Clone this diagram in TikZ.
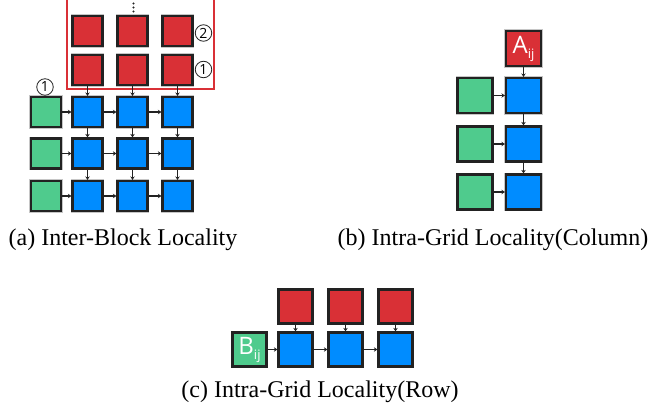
\documentclass[tikz,border=0pt]{standalone}
\usepackage{fontspec}
\setmainfont{Liberation Serif}
\setsansfont{Open Sans}
\usetikzlibrary{arrows.meta}
\definecolor{cred}{HTML}{D93036}
\definecolor{cblue}{HTML}{008CFF}
\definecolor{cgreen}{HTML}{4FCB8D}
\definecolor{cedge}{HTML}{222222}
\tikzset{
  sq/.style={draw=cedge, line width=2.2pt, inner sep=0pt, preaction={draw=gray!45, line width=3.4pt}},
  sqa/.style={sq, minimum size=30pt},
  sqb/.style={sq, minimum size=35pt},
  sqc/.style={sq, minimum size=34pt},
  rd/.style={fill=cred},
  bl/.style={fill=cblue},
  gr/.style={fill=cgreen},
  arr/.style={draw=cedge, line width=1.5pt, -{Stealth[length=3.5pt,width=4.5pt]}},
  captext/.style={font=\fontsize{24}{28}\selectfont},
  circ/.style={circle, draw=cedge, line width=0.8pt, minimum size=16.5pt, inner sep=0pt,
     font=\sffamily\fontsize{14}{14}\selectfont},
  lbl/.style={text=white, font=\sffamily\fontsize{24}{24}\selectfont}
}
\begin{document}
\begin{tikzpicture}[x=1pt,y=-1pt]
\useasboundingbox (0,0) rectangle (654,415);
% ---------- panel (a)
\draw[draw=cred, line width=1.5pt] (67,0) -- (67,89) -- (214,89) -- (214,0);
\foreach \i/\x in {1/87.5,2/132.5,3/177.5}{
  \node[sqa,rd] (ra2\i) at (\x,31) {};
  \node[sqa,rd] (ra1\i) at (\x,70) {};
}
\foreach \j/\y in {1/112,2/153.5,3/196}{
  \node[sqa,gr] (ga\j) at (46,\y) {};
  \foreach \i/\x in {1/87.5,2/132.5,3/177.5}{
    \node[sqa,bl] (ba\j\i) at (\x,\y) {};
  }
}
\foreach \j in {1,2,3}{
  \draw[arr] (ga\j) -- (ba\j1);
  \draw[arr] (ba\j1) -- (ba\j2);
  \draw[arr] (ba\j2) -- (ba\j3);
}
\foreach \i in {1,2,3}{
  \draw[arr] (ra1\i) -- (ba1\i);
  \draw[arr] (ba1\i) -- (ba2\i);
  \draw[arr] (ba2\i) -- (ba3\i);
}
\foreach \y in {3.5,7.5,11.5}{\fill[cedge] (133.5,\y) circle (1.2pt);}
\node[circ] (c2) at (203.5,33) {2};
\node[circ] (c1) at (203.5,69.5) {1};
\node[circ] (c1g) at (45,87) {1};
\node[captext] (capa) at (123,240) {(a) Inter-Block Locality};
% ---------- panel (b)
\node[sqb,rd,lbl] (A) at (523.5,48.5) {A\raisebox{-5pt}{\fontsize{13}{13}\selectfont ij}};
\foreach \j/\y in {1/95.5,2/144,3/192}{
  \node[sqb,bl] (bb\j) at (523.5,\y) {};
  \node[sqb,gr] (gb\j) at (475,\y) {};
  \draw[arr] (gb\j) -- (bb\j);
}
\draw[arr] (A) -- (bb1);
\draw[arr] (bb1) -- (bb2);
\draw[arr] (bb2) -- (bb3);
\node[captext] (capb) at (493,240) {(b) Intra-Grid Locality(Column)};
% ---------- panel (c)
\node[sqc,gr,lbl] (B) at (249.5,349.5) {B\raisebox{-5pt}{\fontsize{13}{13}\selectfont ij}};
\foreach \i/\x in {1/295.5,2/345.5,3/395.5}{
  \node[sqc,bl] (bc\i) at (\x,349.5) {};
  \node[sqc,rd] (rc\i) at (\x,306.5) {};
  \draw[arr] (rc\i) -- (bc\i);
}
\draw[arr] (B) -- (bc1);
\draw[arr] (bc1) -- (bc2);
\draw[arr] (bc2) -- (bc3);
\node[captext] (capc) at (320,392) {(c) Intra-Grid Locality(Row)};
\end{tikzpicture}
\end{document}
